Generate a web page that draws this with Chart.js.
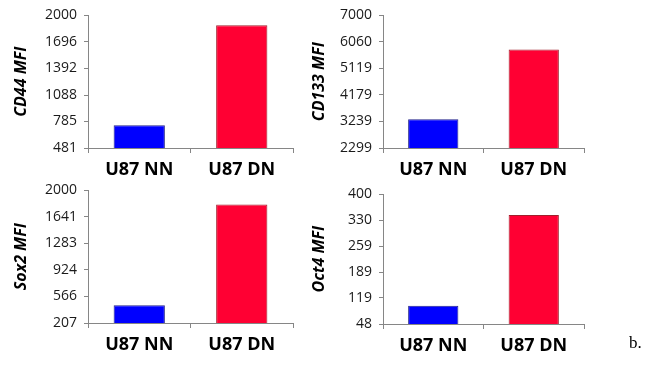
<!DOCTYPE html>
<html>
<head>
<meta charset="utf-8">
<script src="https://cdn.jsdelivr.net/npm/chart.js@4/dist/chart.umd.min.js"></script>
<style>
  html, body { margin: 0; padding: 0; background: #fff; width: 654px; height: 380px; overflow: hidden; }
  .panel { position: absolute; width: 310px; height: 180px; }
  #tag { position: absolute; left: 629px; top: 333px; font: 17px "Liberation Serif", serif; color: #000; }
</style>
</head>
<body>
<div class="panel" style="left:0px;top:0px"><canvas id="cd44"></canvas></div>
<div class="panel" style="left:298px;top:0px"><canvas id="cd133"></canvas></div>
<div class="panel" style="left:0px;top:175px"><canvas id="sox2"></canvas></div>
<div class="panel" style="left:298px;top:179px"><canvas id="oct4"></canvas></div>
<div id="tag">b.</div>
<script>
// Cell lines compared in every panel
const categories = ['U87 NN', 'U87 DN'];

// Mean fluorescence intensity per marker
const cd44Values  = [742, 1888];
const cd133Values = [3322, 5791];
const sox2Values  = [446, 1811];
const oct4Values  = [97.6, 344];

// Y-axis tick labels per marker
const cd44Ticks  = [481, 785, 1088, 1392, 1696, 2000];
const cd133Ticks = [2299, 3239, 4179, 5119, 6060, 7000];
const sox2Ticks  = [207, 566, 924, 1283, 1641, 2000];
const oct4Ticks  = [48, 119, 189, 259, 330, 400];

const barColors  = ['#0000ff', '#ff0033'];
const barBorders = ['#23238a', '#a0202c'];
const axisGray = '#868686';

function drawPanel(id, title, values, ticks, box) {
  new Chart(document.getElementById(id), {
    type: 'bar',
    data: {
      labels: categories,
      datasets: [{
        data: values,
        backgroundColor: barColors,
        borderColor: barBorders,
        borderWidth: 1,
        categoryPercentage: 1,
        barPercentage: 0.5
      }]
    },
    options: {
      responsive: true,
      maintainAspectRatio: false,
      animation: false,
      events: [],
      layout: { padding: { top: box.top, right: box.right, left: 0, bottom: 0 } },
      plugins: { legend: { display: false }, tooltip: { enabled: false } },
      scales: {
        x: {
          grid: { display: true, drawOnChartArea: false, drawTicks: true, tickLength: 5, color: axisGray, offset: true },
          border: { display: true, color: axisGray, width: 1 },
          ticks: { color: '#000', padding: 6, font: { family: 'Open Sans', size: 18, weight: 'bold' } },
          afterFit: s => { s.height = box.xh; }
        },
        y: {
          min: ticks[0],
          max: ticks[ticks.length - 1],
          afterBuildTicks: s => { s.ticks = ticks.map(v => ({ value: v })); },
          grid: { display: true, drawOnChartArea: false, drawTicks: true, tickLength: 4, color: axisGray },
          border: { display: true, color: axisGray, width: 1 },
          ticks: { color: '#1a1a1a', padding: 7, font: { family: 'Open Sans', size: 14 }, callback: v => String(v) },
          title: {
            display: true,
            text: title,
            color: '#000',
            padding: { top: 12, bottom: 0 },
            font: { family: 'Open Sans', size: 16, weight: 'bold', style: 'italic' }
          },
          afterFit: s => { s.width = box.yw; }
        }
      }
    }
  });
}

drawPanel('cd44',  'CD44 MFI',  cd44Values,  cd44Ticks,  { yw: 88, top: 15, right: 17, xh: 32 });
drawPanel('cd133', 'CD133 MFI', cd133Values, cd133Ticks, { yw: 85, top: 15, right: 24, xh: 32 });
drawPanel('sox2',  'Sox2 MFI',  sox2Values,  sox2Ticks,  { yw: 88, top: 15, right: 17, xh: 32 });
drawPanel('oct4',  'Oct4 MFI',  oct4Values,  oct4Ticks,  { yw: 85, top: 15, right: 24, xh: 35 });
</script>
</body>
</html>
